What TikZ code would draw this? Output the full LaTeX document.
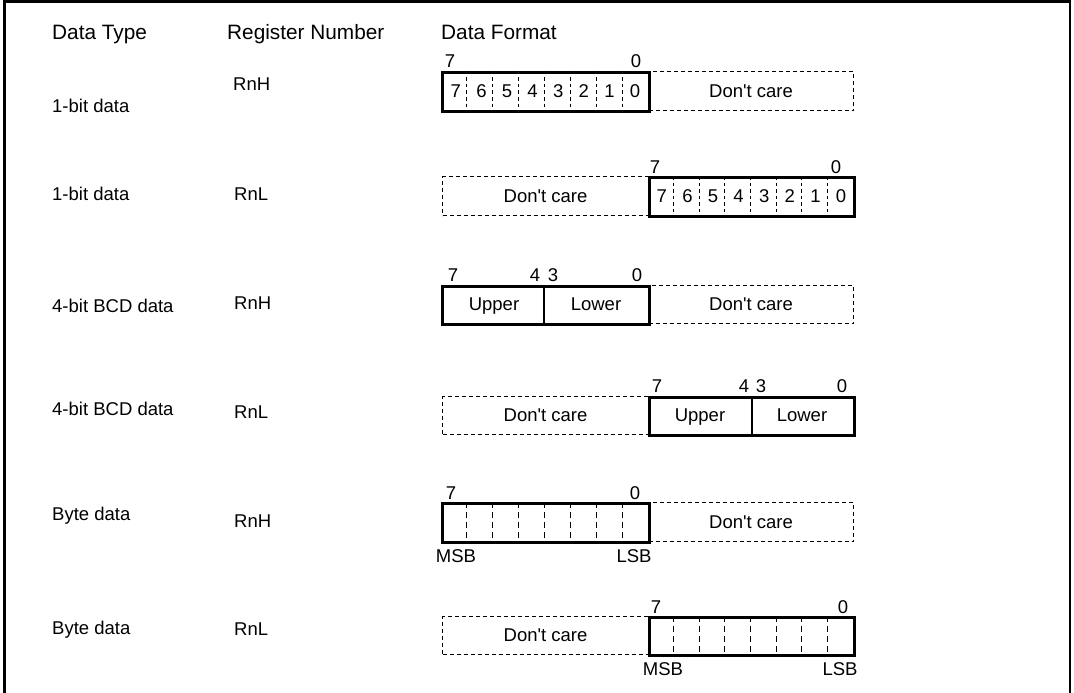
\documentclass[tikz,border=0pt]{standalone}
\usepackage{fontspec}
\setmainfont{Liberation Sans}[Ligatures=TeXOff]
\begin{document}
\begin{tikzpicture}[x=1pt,y=-1pt,
  hdr/.style={anchor=base west, inner sep=0pt, font=\fontsize{20.8}{24}\selectfont},
  lbl/.style={anchor=base west, inner sep=0pt, font=\fontsize{18.5}{22}\selectfont},
  num/.style={anchor=base, inner sep=0pt, font=\fontsize{18.5}{22}\selectfont},
  solidbox/.style={draw, line width=2.8pt, inner sep=0pt, anchor=north west, font=\fontsize{18.5}{22}\selectfont},
  dcbox/.style={draw, line width=1.1pt, dash pattern=on 4pt off 3pt, inner sep=0pt, anchor=north west, font=\fontsize{18.5}{22}\selectfont},
  bitdiv/.style={line width=1pt, dash pattern=on 3.5pt off 3pt},
  bytediv/.style={line width=1pt, dash pattern=on 6pt off 4pt},
  halfdiv/.style={line width=2.8pt},
  frame/.style={line width=2.6pt}
]
\useasboundingbox (0,0) rectangle (1074,693);
% outer frame (open at the bottom)
\coordinate (fbl) at (4.5,700);
\coordinate (ftl) at (4.5,1.3);
\coordinate (ftr) at (1070,1.3);
\coordinate (fbr) at (1070,700);
\draw[frame] (fbl) -- (ftl) -- (ftr) -- (fbr);

% headers
\node[hdr] (h1) at (52,40) {Data Type};
\node[hdr] (h2) at (227,40) {Register Number};
\node[hdr] (h3) at (441,40) {Data Format};

% left columns
\node[lbl] (t1) at (52,113) {1-bit data};
\node[lbl] (r1) at (233,91) {RnH};
\node[lbl] (t2) at (52,200) {1-bit data};
\node[lbl] (r2) at (234,200) {RnL};
\node[lbl] (t3) at (52,312) {4-bit BCD data};
\node[lbl] (r3) at (234,309) {RnH};
\node[lbl] (t4) at (52,415) {4-bit BCD data};
\node[lbl] (r4) at (234,418) {RnL};
\node[lbl] (t5) at (52,520) {Byte data};
\node[lbl] (r5) at (234,527) {RnH};
\node[lbl] (t6) at (52,634) {Byte data};
\node[lbl] (r6) at (234,635) {RnL};

% ---------- Row 1: 1-bit, RnH ----------
\node[dcbox, minimum width=205pt, minimum height=39pt] (dc1) at (648,71) {Don't care};
\node[solidbox, minimum width=207pt, minimum height=39pt] (b1) at (441,71) {};
\foreach \k in {1,...,7} \draw[bitdiv] ({441+\k*25.875},71) -- ({441+\k*25.875},110);
\foreach \d [count=\i from 0] in {7,6,5,4,3,2,1,0}
  \node[num] (da\i) at ({443+(\i+0.5)*25.6},97) {\d};
\node[num] (a7) at (450,67.6) {7};
\node[num] (a0) at (636,67.6) {0};

% ---------- Row 2: 1-bit, RnL ----------
\node[dcbox, minimum width=206pt, minimum height=39pt] (dc2) at (442,176) {Don't care};
\node[solidbox, minimum width=205pt, minimum height=39pt] (b2) at (648,176) {};
\foreach \k in {1,...,7} \draw[bitdiv] ({648+\k*25.625},176) -- ({648+\k*25.625},215);
\foreach \d [count=\i from 0] in {7,6,5,4,3,2,1,0}
  \node[num] (db\i) at ({649+(\i+0.5)*25.6},202) {\d};
\node[num] (b7) at (655,173.6) {7};
\node[num] (b0) at (836,173.6) {0};

% ---------- Row 3: 4-bit BCD, RnH ----------
\node[dcbox, minimum width=205pt, minimum height=38pt] (dc3) at (648,285) {Don't care};
\node[solidbox, minimum width=207pt, minimum height=38pt] (b3) at (441,285) {};
\draw[halfdiv] (544,285) -- (544,323);
\node[num] (up3) at (494,310.6) {Upper};
\node[num] (lo3) at (596,310.6) {Lower};
\node[num] (c7) at (453,281.6) {7};
\node[num] (c4) at (535,281.6) {4};
\node[num] (c3) at (553,281.6) {3};
\node[num] (c0) at (637,281.6) {0};

% ---------- Row 4: 4-bit BCD, RnL ----------
\node[dcbox, minimum width=206pt, minimum height=38pt] (dc4) at (442,396) {Don't care};
\node[solidbox, minimum width=205pt, minimum height=38pt] (b4) at (648,396) {};
\draw[halfdiv] (752,396) -- (752,434);
\node[num] (up4) at (700,421.6) {Upper};
\node[num] (lo4) at (802,421.6) {Lower};
\node[num] (e7) at (657,392.6) {7};
\node[num] (e4) at (744,392.6) {4};
\node[num] (e3) at (761,392.6) {3};
\node[num] (e0) at (842,392.6) {0};

% ---------- Row 5: Byte, RnH ----------
\node[dcbox, minimum width=205pt, minimum height=39pt] (dc5) at (648,502) {Don't care};
\node[solidbox, minimum width=207pt, minimum height=39pt] (b5) at (441,502) {};
\foreach \k in {1,...,7} \draw[bytediv] ({441+\k*25.875},502) -- ({441+\k*25.875},541);
\node[num] (f7) at (451,499.6) {7};
\node[num] (f0) at (635,499.6) {0};
\node[num] (fm) at (456,562.6) {MSB};
\node[num] (fl) at (634,562.6) {LSB};

% ---------- Row 6: Byte, RnL ----------
\node[dcbox, minimum width=206pt, minimum height=38pt] (dc6) at (442,616) {Don't care};
\node[solidbox, minimum width=205pt, minimum height=38pt] (b6) at (648,616) {};
\foreach \k in {1,...,7} \draw[bytediv] ({648+\k*25.625},616) -- ({648+\k*25.625},654);
\node[num] (g7) at (656,613.6) {7};
\node[num] (g0) at (843,613.6) {0};
\node[num] (gm) at (663,675.6) {MSB};
\node[num] (gl) at (840,675.6) {LSB};
\end{tikzpicture}
\end{document}
